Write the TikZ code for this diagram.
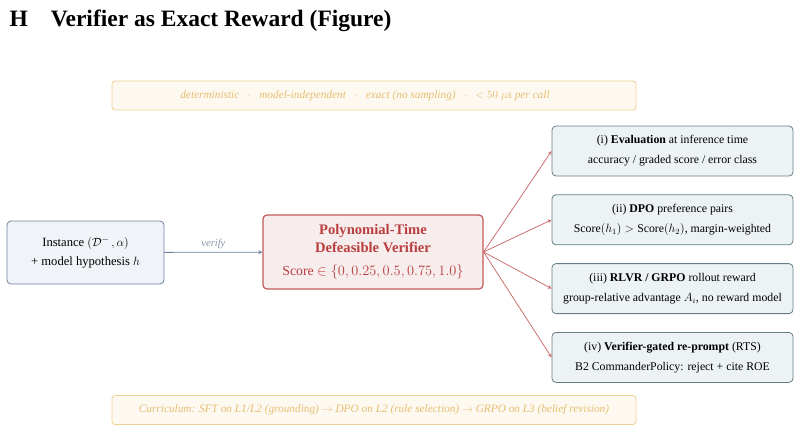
\documentclass[tikz,border=0pt]{standalone}
\usepackage{amsmath, amssymb}
\usepackage{fontspec}
\setmainfont{Liberation Serif}
\usepackage{tikz}
\usetikzlibrary{arrows.meta, positioning, calc}
\usepackage{xcolor}

\definecolor{bandfill}{RGB}{253,249,240}
\definecolor{bandline}{RGB}{240,208,145}
\definecolor{bandtext}{RGB}{230,190,112}
\definecolor{infill}{RGB}{240,243,248}
\definecolor{inline}{RGB}{112,128,158}
\definecolor{verfill}{RGB}{248,237,237}
\definecolor{verline}{RGB}{195,88,88}
\definecolor{vertext}{RGB}{185,62,62}
\definecolor{outfill}{RGB}{237,243,244}
\definecolor{outline}{RGB}{102,126,136}
\definecolor{fanline}{RGB}{205,112,112}

\begin{document}
\begin{tikzpicture}[
        x=1pt, y=-1pt,
        node distance=18pt,
        band/.style={
            draw=bandline,
            fill=bandfill,
            line width=0.8pt,
            rounded corners=3pt,
            minimum width=524pt,
            minimum height=29pt,
            text=bandtext,
            font=\fontsize{11.3}{13}\selectfont\itshape
        },
        inbox/.style={
            draw=inline,
            fill=infill,
            line width=0.8pt,
            rounded corners=4pt,
            minimum width=157pt,
            minimum height=63pt,
            align=center,
            font=\fontsize{12.6}{19}\selectfont
        },
        verbox/.style={
            draw=verline,
            fill=verfill,
            line width=1.2pt,
            rounded corners=4pt,
            minimum width=220pt,
            minimum height=74pt,
            align=center,
            text=vertext,
            font=\fontsize{14.6}{18}\selectfont
        },
        outbox/.style={
            draw=outline,
            fill=outfill,
            line width=0.8pt,
            rounded corners=4pt,
            minimum width=241pt,
            minimum height=50pt,
            align=center,
            font=\fontsize{11.8}{20}\selectfont
        },
        arrow/.style={->, >=stealth, line width=0.8pt},
        fan/.style={arrow, draw=fanline}
    ]

        \useasboundingbox (0,0) rectangle (800,431);

        \node[anchor=base west, font=\fontsize{23.5}{28}\selectfont\bfseries] (title) at (6,27)
            {H\hspace{23pt}Verifier as Exact Reward (Figure)};

        \node[band] (props) at (374,95.5)
            {deterministic \ \ $\cdot$ \ \ model-independent \ \ $\cdot$ \ \ exact (no sampling) \ \ $\cdot$ \ \ $<50\ \mu$s per call\hspace*{18pt}};

        \node[inbox] (inst) at (85.5,252.5)
            {Instance $(\mathcal{D}^{-}\,,\alpha)$\\ + model hypothesis $h$};

        \node[verbox] (ver) at (373,252)
            {\textbf{Polynomial-Time}\\
            \textbf{Defeasible Verifier}\\[5pt]
            {\fontsize{13.8}{16}\selectfont Score $\in\{0,0.25,0.5,0.75,1.0\}$}};

        \node[outbox] (eval) at (672.5,151)
            {(i) \textbf{Evaluation} at inference time\\ accuracy / graded score / error class};
        \node[outbox, below=of eval] (dpo)
            {(ii) \textbf{DPO} preference pairs\\ $\mathrm{Score}(h_1)>\mathrm{Score}(h_2)$, margin-weighted};
        \node[outbox, below=of dpo] (grpo)
            {(iii) \textbf{RLVR / GRPO} rollout reward\\ group-relative advantage $A_i$, no reward model};
        \node[outbox, below=of grpo] (rts)
            {(iv) \textbf{Verifier-gated re-prompt} (RTS)\\ B2 CommanderPolicy: reject + cite ROE};

        \node[band] (curr) at (374,410)
            {Curriculum: SFT on L1/L2 (grounding) $\rightarrow$ DPO on L2 (rule selection) $\rightarrow$ GRPO on L3 (belief revision)};

        \draw[arrow, draw=inline] (inst) -- node[above, font=\fontsize{10.5}{12}\selectfont\itshape, text=inline!85] {verify} (ver);
        \draw[fan] (ver.east) -- (eval.west);
        \draw[fan] (ver.east) -- (dpo.west);
        \draw[fan] (ver.east) -- (grpo.west);
        \draw[fan] (ver.east) -- (rts.west);

    \end{tikzpicture}
\end{document}
